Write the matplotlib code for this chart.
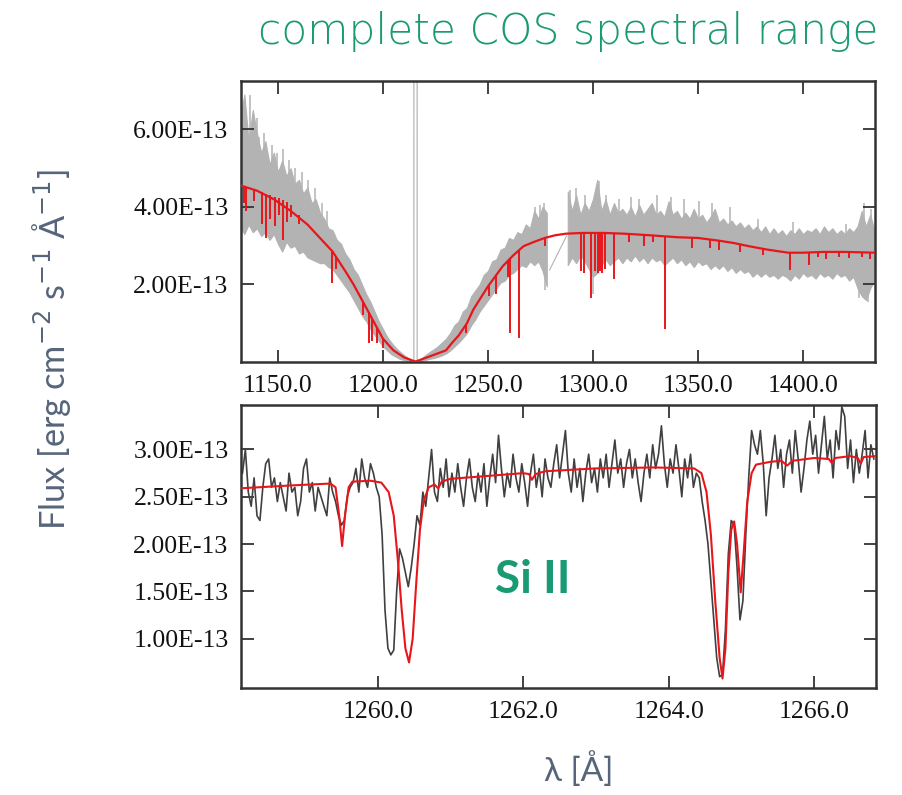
import numpy as np
import matplotlib
matplotlib.use("Agg")
import matplotlib.pyplot as plt

# ---------------- data (flux in units of 1e-13 erg cm^-2 s^-1 A^-1) ----------------
# top panel: observed spectrum envelope, segment A (1132-1278 A, 2 A grid)
top_a_start, top_step = 1132.0, 2.0
top_a_hi = [6.3, 6.9, 5.7, 6.5, 5.9, 5.4, 5.7, 5.1, 5.4, 4.9,
            5.2, 4.8, 5.0, 4.6, 4.7, 4.35, 4.5, 4.1, 4.2, 3.85,
            3.7, 3.45, 3.4, 3.15, 3.05, 2.8, 2.65, 2.4, 2.25, 2.0,
            1.75, 1.55, 1.3, 1.05, 0.85, 0.65, 0.5, 0.37, 0.27, 0.18,
            0.1, 0.05, 0.04, 0.08, 0.17, 0.25, 0.32, 0.4, 0.5, 0.6,
            0.75, 0.95, 1.05, 1.3, 1.4, 1.7, 1.85, 2.0, 2.25, 2.35,
            2.6, 2.65, 2.9, 2.95, 3.2, 3.15, 3.35, 3.3, 3.55, 3.45,
            3.9, 3.7, 4.0, 3.85]
top_a_lo = [3.5, 3.3, 3.55, 3.35, 3.45, 3.25, 3.35, 3.15, 3.3, 3.05,
            2.85, 3.1, 2.95, 3.0, 2.8, 2.85, 2.7, 2.65, 2.6, 2.55,
            2.55, 2.45, 2.4, 2.25, 2.1, 1.95, 1.8, 1.6, 1.4, 1.2,
            1.05, 0.85, 0.7, 0.55, 0.4, 0.3, 0.2, 0.14, 0.08, 0.05,
            0.02, 0.0, 0.0, 0.02, 0.05, 0.08, 0.1, 0.13, 0.17, 0.22,
            0.3, 0.4, 0.5, 0.62, 0.75, 0.95, 1.1, 1.3, 1.45, 1.6,
            1.75, 1.9, 2.05, 2.1, 2.25, 2.3, 2.4, 2.5, 2.45, 2.6,
            2.5, 2.6, 2.35, 1.95]
# segment B (1288-1434 A, 2 A grid)
top_b_start = 1288.0
top_b_hi = [4.4, 3.9, 4.3, 3.8, 4.1, 3.9, 4.2, 4.7, 3.9, 4.2,
            3.8, 4.1, 3.85, 3.95, 3.8, 4.0, 3.75, 4.05, 3.8, 3.95,
            4.1, 3.8, 3.9, 3.75, 4.15, 3.8, 3.9, 3.7, 3.85, 3.7,
            3.95, 3.7, 3.8, 3.6, 3.75, 3.95, 3.6, 3.7, 3.55, 3.65,
            3.5, 3.6, 3.45, 3.55, 3.4, 3.5, 3.35, 3.5, 3.3, 3.45,
            3.3, 3.4, 3.25, 3.4, 3.3, 3.45, 3.3, 3.4, 3.35, 3.45,
            3.3, 3.5, 3.35, 3.45, 3.3, 3.4, 3.3, 3.45, 3.35, 3.5,
            3.9, 3.5, 3.8, 3.4]
top_b_lo = [2.5, 2.7, 2.55, 2.75, 2.6, 2.4, 2.2, 2.3, 2.5, 2.65,
            2.5, 2.6, 2.7, 2.55, 2.7, 2.6, 2.75, 2.6, 2.7, 2.55,
            2.7, 2.6, 2.65, 2.5, 2.6, 2.7, 2.55, 2.65, 2.5, 2.6,
            2.45, 2.6, 2.5, 2.55, 2.4, 2.5, 2.4, 2.5, 2.35, 2.45,
            2.3, 2.4, 2.3, 2.35, 2.2, 2.3, 2.2, 2.3, 2.2, 2.25,
            2.15, 2.25, 2.2, 2.1, 2.25, 2.15, 2.3, 2.2, 2.25, 2.15,
            2.3, 2.2, 2.25, 2.15, 2.3, 2.2, 2.25, 2.1, 2.2, 1.9,
            1.7, 1.6, 1.9, 2.1]
# individual noise spikes of the observed spectrum (wavelength, low end, high end)
spike_wl = [1133.5, 1136.5, 1139.8, 1141.2, 1143.4, 1147.1, 1149.6, 1152.3, 1155.1,
            1158.2, 1161.3, 1164.2, 1167.5, 1171.1, 1173.4, 1272.5, 1274.6, 1276.7,
            1289.2, 1291.8, 1296.3, 1303.1, 1306.4, 1312.6, 1318.3, 1322.1, 1330.4,
            1337.2, 1343.5, 1350.3, 1356.8, 1365.2, 1378.4, 1395.1, 1420.3, 1429.2,
            1432.6, 1277.3, 1300.2, 1426.6, 1430.8]
spike_lo = [4.6, 4.6, 4.5, 4.4, 4.4, 4.3, 4.2, 4.1, 4.0,
            3.9, 3.7, 3.5, 3.4, 3.2, 3.0, 3.1, 3.1, 3.2,
            3.3, 3.3, 3.3, 3.3, 3.3, 3.3, 3.3, 3.3, 3.3,
            3.2, 3.2, 3.2, 3.1, 3.1, 2.9, 2.8, 2.8, 2.8,
            2.8, 1.85, 1.75, 1.65, 1.55]
spike_hi = [6.6, 6.9, 6.3, 5.8, 5.9, 5.6, 5.4, 5.5, 5.2,
            5.0, 4.9, 4.7, 4.5, 4.1, 3.9, 4.0, 4.05, 4.1,
            4.45, 4.5, 4.3, 4.67, 4.3, 4.2, 4.25, 4.2, 4.3,
            4.25, 4.2, 4.15, 4.1, 4.0, 3.7, 3.6, 3.55, 4.1,
            3.95, 3.2, 3.3, 2.8, 2.8]
# detector gap connector and geocoronal Ly-alpha spike
gap_wl = [1279.4, 1287.4]
gap_flux = [2.38, 3.25]
lya_wl = [1214.7, 1214.9, 1216.1, 1216.3]
lya_flux = [0.0, 80.0, 80.0, 0.0]

# top panel model continuum
model_wl = [1132.4, 1140, 1148, 1156, 1164, 1170, 1176, 1182, 1186, 1190, 1195,
            1200, 1205, 1210, 1215.5, 1220, 1225, 1230, 1233, 1236, 1240, 1243,
            1250, 1257, 1262, 1267, 1272, 1277, 1282, 1287, 1295, 1305, 1315,
            1327, 1340, 1350, 1360, 1367, 1375, 1383, 1393, 1400, 1410, 1420, 1434.3]
model_flux = [4.55, 4.42, 4.2, 3.9, 3.55, 3.2, 2.85, 2.35, 2.0, 1.6, 1.1,
              0.6, 0.3, 0.12, 0.01, 0.1, 0.2, 0.3, 0.5, 0.68, 1.0, 1.35,
              1.95, 2.47, 2.75, 2.99, 3.1, 3.2, 3.27, 3.31, 3.33, 3.33, 3.31,
              3.27, 3.22, 3.2, 3.13, 3.07, 2.98, 2.9, 2.82, 2.82, 2.84, 2.84, 2.82]
# model absorption lines (centre, continuum level, line bottom)
line_wl = [1134.0, 1135.0, 1138.5, 1142.5, 1144.5, 1146.0, 1148.5, 1150.5, 1152.5,
           1154.5, 1156.0, 1160.0, 1175.5, 1177.5, 1190.5, 1193.3, 1194.8, 1197.0,
           1200.0, 1239.5, 1250.6, 1253.8, 1259.5, 1260.4, 1264.7, 1277.2,
           1294.4, 1295.6, 1298.9, 1301.0, 1302.2, 1303.3, 1304.4, 1305.5, 1309.8,
           1317.2, 1324.4, 1328.8, 1334.5, 1347.2, 1355.6, 1360.0, 1370.1, 1381.0,
           1393.8, 1402.8, 1407.0, 1411.0, 1417.0, 1422.0, 1428.0, 1432.0]
line_top = [4.52, 4.5, 4.45, 4.38, 4.33, 4.3, 4.25, 4.22, 4.18,
            4.12, 4.05, 3.8, 2.85, 2.7, 1.55, 1.28, 1.12, 0.9,
            0.6, 0.95, 1.98, 2.25, 2.6, 2.65, 2.9, 3.2,
            3.32, 3.32, 3.33, 3.33, 3.33, 3.33, 3.33, 3.33, 3.32,
            3.3, 3.28, 3.27, 3.25, 3.21, 3.16, 3.13, 3.03, 2.92,
            2.82, 2.83, 2.84, 2.84, 2.84, 2.84, 2.83, 2.82]
line_bot = [4.1, 3.9, 4.15, 3.55, 3.2, 3.7, 3.5, 3.8, 3.15,
            3.6, 3.75, 3.55, 2.05, 2.4, 1.2, 0.5, 0.55, 0.5,
            0.35, 0.75, 1.7, 1.75, 2.2, 0.75, 0.62, 3.0,
            2.35, 2.3, 1.65, 2.35, 2.3, 2.35, 2.3, 2.4, 2.13,
            3.1, 3.0, 3.1, 0.84, 2.95, 2.95, 2.9, 2.85, 2.75,
            2.38, 2.5, 2.7, 2.65, 2.7, 2.68, 2.7, 2.65]

# bottom panel: observed Si II region (0.04 A grid)
zoom_start, zoom_step = 1258.14, 0.04
zoom_obs = [2.75, 3.0, 2.55, 2.4, 2.7, 2.3, 2.25, 2.6, 2.85, 2.9,
            2.6, 2.7, 2.45, 2.65, 2.5, 2.35, 2.75, 2.55, 2.6, 2.3,
            2.45, 2.8, 2.9, 2.55, 2.65, 2.35, 2.6, 2.5, 2.4, 2.3,
            2.7, 2.55,
            2.45, 2.3, 2.2, 2.25, 2.5, 2.6,
            2.65, 2.8, 2.55, 2.9, 2.7, 2.6, 2.85, 2.75, 2.6, 2.5,
            2.1, 1.3, 0.9, 0.83, 0.88, 1.5, 1.95, 1.85, 1.7, 1.55,
            1.75, 2.0, 2.3, 2.2, 2.55, 2.4,
            2.7, 3.0, 2.55, 2.45, 2.8, 2.6, 2.9, 2.5, 2.75, 2.55,
            2.85, 2.6, 2.4, 2.7, 2.9, 2.6, 2.45, 2.75, 2.55, 2.85,
            2.4, 2.7, 2.95, 2.65, 3.15, 2.8, 2.5, 2.75, 2.6, 2.95,
            2.7, 2.55, 2.85, 2.65, 2.4, 2.75, 2.95, 2.6, 2.8, 2.5,
            2.9, 2.7, 2.6, 2.85, 3.05, 2.7, 2.95, 3.2, 2.75, 2.55,
            2.9, 2.6, 2.8, 2.45, 2.75, 2.95, 2.65, 2.8, 2.55, 2.9,
            2.7, 2.95, 2.6, 2.85, 3.1, 2.75, 2.9, 2.6, 2.85, 3.0,
            2.7, 2.9, 2.65, 2.45, 2.75, 2.95, 2.7, 3.05, 2.8, 2.95,
            3.25, 2.85, 2.6, 2.9, 2.75, 3.05, 2.8, 2.5, 2.9, 2.7,
            2.95, 2.6, 2.75,
            2.7, 2.45, 2.25, 2.0, 1.6, 1.2, 0.8, 0.6, 0.62, 1.1,
            1.9, 2.25, 2.2, 1.75, 1.2, 1.4, 2.1, 2.7, 3.2, 3.05,
            2.95, 3.2, 2.85, 2.3, 2.7, 2.9, 3.15, 2.8, 3.0, 2.6,
            2.95, 3.1, 2.75, 3.2, 2.9, 2.55, 2.8, 3.1, 3.3, 2.95,
            3.15, 2.75, 3.05, 3.35, 2.9, 3.1, 2.7, 3.2, 3.0, 3.45,
            3.35, 2.8, 3.1, 2.65, 3.0, 2.75, 2.95, 3.2, 2.7, 3.05,
            2.9]
# bottom panel model
zmod_wl = [1258.12, 1258.8, 1259.35, 1259.42, 1259.47, 1259.51, 1259.55, 1259.60,
           1259.65, 1259.9, 1260.05, 1260.15, 1260.22, 1260.28, 1260.33, 1260.38,
           1260.43, 1260.48, 1260.53, 1260.58, 1260.63, 1260.70, 1260.78, 1260.83,
           1260.88, 1261.0, 1261.5, 1262.0, 1262.08, 1262.12, 1262.17, 1262.3,
           1263.0, 1263.8, 1264.35, 1264.45, 1264.52, 1264.58, 1264.64, 1264.70,
           1264.74, 1264.78, 1264.82, 1264.86, 1264.90, 1264.94, 1264.99, 1265.03,
           1265.08, 1265.14, 1265.2, 1265.4, 1265.55, 1265.63, 1265.7, 1266.0,
           1266.2, 1266.24, 1266.29, 1266.5, 1266.6, 1266.64, 1266.68, 1266.85]
zmod_flux = [2.59, 2.62, 2.64, 2.6, 2.3, 1.98, 2.3, 2.6,
             2.66, 2.67, 2.65, 2.55, 2.3, 1.8, 1.3, 0.9,
             0.75, 1.0, 1.6, 2.15, 2.45, 2.6, 2.63, 2.59,
             2.66, 2.69, 2.72, 2.75, 2.74, 2.68, 2.74, 2.77,
             2.8, 2.81, 2.8, 2.75, 2.55, 2.1, 1.4, 0.8,
             0.58, 0.9, 1.7, 2.15, 2.24, 2.0, 1.49, 1.9,
             2.45, 2.75, 2.84, 2.87, 2.88, 2.83, 2.88, 2.91,
             2.9, 2.86, 2.91, 2.93, 2.91, 2.85, 2.92, 2.93]

top_xticks = [1150, 1200, 1250, 1300, 1350, 1400]
top_xticklabels = ["1150.0", "1200.0", "1250.0", "1300.0", "1350.0", "1400.0"]
top_yticks = [2, 4, 6]
top_yticklabels = ["2.00E-13", "4.00E-13", "6.00E-13"]
bot_xticks = [1260, 1262, 1264, 1266]
bot_xticklabels = ["1260.0", "1262.0", "1264.0", "1266.0"]
bot_yticks = [1.0, 1.5, 2.0, 2.5, 3.0]
bot_yticklabels = ["1.00E-13", "1.50E-13", "2.00E-13", "2.50E-13", "3.00E-13"]

title_text = "complete COS spectral range"
ylabel_text = "Flux [erg cm$^{-2}$ s$^{-1}$ Å$^{-1}$]"
xlabel_text = "λ [Å]"
line_label = "Si II"

# ---------------- styling ----------------
GREY = "#b3b3b3"
RED = "#e8161b"
DARK = "#404040"
GREEN = "#1a9a72"
SLATE = "#56657a"
SPINE = "#333333"
TICKFONT = "Liberation Serif"

fig = plt.figure(figsize=(9.02, 7.95), dpi=100)
W, H = 902.0, 795.0
ax1 = fig.add_axes([241 / W, 1 - 362 / H, 634 / W, 281 / H])
ax2 = fig.add_axes([241 / W, 1 - 688 / H, 635 / W, 283 / H])

# top panel
wa = top_a_start + top_step * np.arange(len(top_a_hi))
wb = top_b_start + top_step * np.arange(len(top_b_hi))
for w, lo, hi in ((wa, top_a_lo, top_a_hi), (wb, top_b_lo, top_b_hi)):
    ax1.fill_between(w, lo, hi, facecolor=GREY, edgecolor=GREY, lw=0.8, zorder=1)
ax1.vlines(spike_wl, spike_lo, spike_hi, color=GREY, lw=1.1, zorder=1)
ax1.plot(gap_wl, gap_flux, color=GREY, lw=0.8, zorder=1)
ax1.plot(lya_wl, lya_flux, color="#bdbdbd", lw=1.0, zorder=1)
ax1.plot(model_wl, model_flux, color=RED, lw=1.6, zorder=3)
ax1.vlines(line_wl, line_bot, line_top, color=RED, lw=1.4, zorder=3)
ax1.set_xlim(1132.4, 1434.3)
ax1.set_ylim(0, 7.25)

# bottom panel
wz = zoom_start + zoom_step * np.arange(len(zoom_obs))
ax2.plot(wz, zoom_obs, color=DARK, lw=1.2, zorder=2)
ax2.plot(zmod_wl, zmod_flux, color=RED, lw=1.5, zorder=3)
ax2.set_xlim(1258.12, 1266.85)
ax2.set_ylim(0.48, 3.47)

for ax, xt, xtl, yt, ytl in ((ax1, top_xticks, top_xticklabels, top_yticks, top_yticklabels),
                              (ax2, bot_xticks, bot_xticklabels, bot_yticks, bot_yticklabels)):
    ax.set_xticks(xt)
    ax.set_xticklabels(xtl)
    ax.set_yticks(yt)
    ax.set_yticklabels(ytl)
    ax.tick_params(direction="in", length=9, width=1.3, color=SPINE,
                   top=True, right=True, labelsize=18.5, pad=9, labelcolor="#111111")
    for lab in ax.get_xticklabels() + ax.get_yticklabels():
        lab.set_fontfamily(TICKFONT)
    for sp in ax.spines.values():
        sp.set_color(SPINE)
        sp.set_linewidth(1.8)

ax2.text(1262.13, 1.62, line_label, color=GREEN, fontsize=33, fontweight="bold",
         family="Lato", ha="center", va="center")

t_title = fig.text(258 / W, 1 - 31 / H, title_text, color=GREEN, fontsize=28,
                   family="DejaVu Sans", fontweight="light", ha="left", va="center")
t_ylab = fig.text(52 / W, 1 - 350 / H, ylabel_text, color=SLATE, fontsize=22,
                  family="Lato", rotation=90, ha="center", va="center")
t_xlab = fig.text(579 / W, 1 - 769 / H, xlabel_text, color=SLATE, fontsize=24,
                  family="Lato", ha="center", va="center")

# fit the title and y label to the lengths they have in the reference
fig.canvas.draw()
rend = fig.canvas.get_renderer()
for t, target, attr in ((t_title, 620.0, "width"), (t_ylab, 360.0, "height")):
    bb = t.get_window_extent(rend)
    t.set_fontsize(t.get_fontsize() * target / getattr(bb, attr))

fig.savefig("out.png", dpi=100, facecolor="white")
